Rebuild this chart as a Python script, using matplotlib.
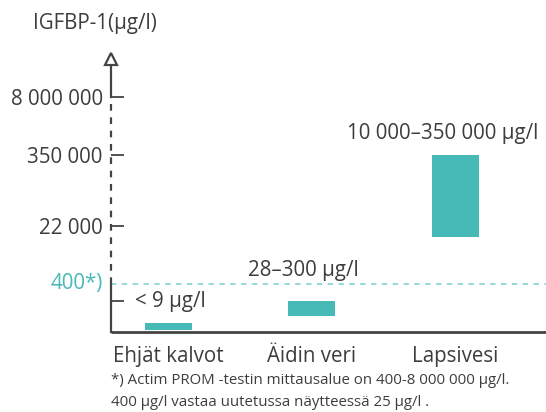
import numpy as np
import matplotlib
matplotlib.use("Agg")
import matplotlib.pyplot as plt

# ---- data ----
categories = ["Ehjät kalvot", "Äidin veri", "Lapsivesi"]
low_values = [1, 28, 10000]
high_values = [9, 300, 350000]
range_labels = ["< 9 µg/l", "28–300 µg/l", "10 000–350 000 µg/l"]
tick_values = [300, 22000, 350000, 8000000]
tick_labels = ["", "22 000", "350 000", "8 000 000"]
limit_value = 400
limit_label = "400*)"
title = "IGFBP-1(µg/l)"
footnote = ["*) Actim PROM -testin mittausalue on 400-8 000 000 µg/l.",
            "400 µg/l vastaa uutetussa näytteessä 25 µg/l ."]

# schematic (non-uniform) axis: log10(value) anchors -> display position
anchor_logs = np.array([-1.0, 0.0, 0.954, 1.447, 2.477, 2.602, 4.0, 4.342, 5.544, 6.903, 8.0])
anchor_pos = np.array([0.0, 2.0, 9.0, 16.0, 31.0, 48.0, 95.0, 106.0, 177.0, 235.0, 280.0])

def fwd(v):
    v = np.asarray(v, dtype=float)
    return np.interp(np.log10(np.maximum(v, 1e-12)), anchor_logs, anchor_pos)

def inv(p):
    return 10 ** np.interp(np.asarray(p, dtype=float), anchor_pos, anchor_logs)

plt.rcParams['font.family'] = ['Open Sans', 'DejaVu Sans']
TXT = "#3d3d3d"
AX = "#444444"
TEAL = "#47b9b6"
TEAL_LIGHT = "#8fd6d6"
FS = 14.8

W, H = 546, 412
fig = plt.figure(figsize=(W / 100, H / 100), dpi=100)
ax = fig.add_axes([111 / W, (H - 332) / H, (W - 111) / W, 280 / H])
ax.set_yscale('function', functions=(fwd, inv))
ax.set_ylim(0.1, 1e8)
x = np.arange(len(categories))
ax.set_xlim(-0.4007, 2.6307)

for s in ax.spines.values():
    s.set_visible(False)

# bars
heights = [h - l for l, h in zip(low_values, high_values)]
ax.bar(x, heights, bottom=low_values, width=0.3275, color=TEAL, zorder=3)

# range labels
label_x = [-0.233, 0.554, 1.244]
label_y = [280, 975, 1.09e6]
for lx, ly, t in zip(label_x, label_y, range_labels):
    ax.text(lx, ly, t, ha='left', va='center', fontsize=FS, color=TXT)

# axis lines
xl = ax.get_xlim()
ax.plot([xl[0], xl[1]], [0.1, 0.1], color=AX, lw=2, clip_on=False, solid_capstyle='butt', zorder=4)
ax.plot([xl[0], xl[0]], [0.1, limit_value], color=AX, lw=1.6, clip_on=False, zorder=4)
ax.plot([xl[0], xl[0]], [limit_value, tick_values[-1]], color=AX, lw=1.6, ls=(0, (3, 3)), clip_on=False, zorder=4)
ax.plot([xl[0], xl[0]], [tick_values[-1], inv(267)], color=AX, lw=1.6, clip_on=False, zorder=4)
ax.plot([xl[0]], [inv(273)], marker='^', markersize=9, markerfacecolor='white',
        markeredgecolor=AX, markeredgewidth=1.6, clip_on=False, zorder=5)

# limit line
ax.plot([xl[0], xl[1]], [limit_value, limit_value], color=TEAL_LIGHT, lw=1.3, ls=(0, (3, 3)), clip_on=False)
ax.text(-0.018, limit_value, limit_label, transform=ax.get_yaxis_transform(),
        ha='right', va='center', fontsize=FS, color=TEAL)

# y ticks
ax.set_yticks(tick_values)
ax.set_yticklabels(tick_labels)
ax.yaxis.set_minor_locator(matplotlib.ticker.NullLocator())
ax.tick_params(axis='y', direction='in', length=9, width=1.3, color=AX, pad=6,
               labelsize=FS, labelcolor=TXT)

# x ticks
ax.set_xticks(x)
ax.set_xticklabels(categories)
ax.tick_params(axis='x', length=0, pad=10, labelsize=FS, labelcolor=TXT)

fig.text(33 / W, 1 - 24 / H, title, ha='left', va='center', fontsize=FS, color=TXT)
fig.text(111 / W, 1 - 381 / H, footnote[0], ha='left', va='center', fontsize=10.8, color=TXT)
fig.text(111 / W, 1 - 402 / H, footnote[1], ha='left', va='center', fontsize=10.8, color=TXT)

fig.savefig("out.png", dpi=100)
